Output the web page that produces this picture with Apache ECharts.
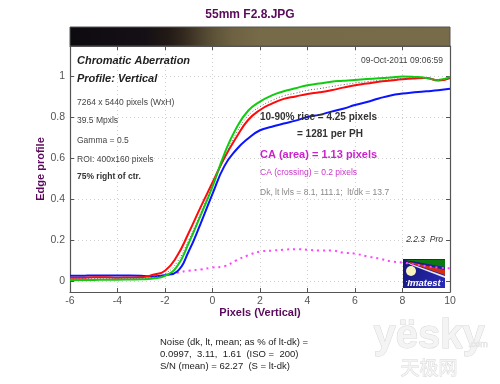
<!DOCTYPE html>
<html><head><meta charset="utf-8">
<script src="https://cdn.jsdelivr.net/npm/echarts@6/dist/echarts.min.js"></script>
<style>html,body{margin:0;padding:0;background:#fff}#c{width:500px;height:384px}</style>
</head><body><div id="c"></div>
<script>
var xs = [-6,-5.5,-5,-4.5,-4,-3.5,-3,-2.5,-2,-1.5,-1,-0.5,0,0.5,1,1.5,2,2.5,3,3.5,4,4.5,5,5.5,6,6.5,7,7.5,8,8.5,9,9.5,10];
var redVals = [0.015,0.015,0.018,0.018,0.016,0.017,0.018,0.03,0.05,0.12,0.235,0.36,0.48,0.6,0.7,0.785,0.834,0.865,0.888,0.9,0.912,0.92,0.93,0.943,0.955,0.963,0.972,0.978,0.984,0.988,0.99,0.978,0.99];
var greenVals = [0.004,0.005,0.005,0.006,0.006,0.007,0.008,0.012,0.025,0.07,0.185,0.32,0.46,0.62,0.745,0.83,0.875,0.905,0.925,0.94,0.955,0.963,0.972,0.976,0.98,0.985,0.989,0.992,0.997,0.995,0.99,0.98,0.995];
var blueVals = [0.025,0.025,0.027,0.027,0.026,0.026,0.025,0.022,0.028,0.045,0.145,0.28,0.425,0.56,0.64,0.695,0.735,0.752,0.768,0.782,0.8,0.81,0.826,0.84,0.858,0.873,0.89,0.905,0.914,0.92,0.925,0.93,0.937];
var lumVals = [0.012,0.012,0.013,0.013,0.013,0.013,0.013,0.018,0.035,0.09,0.2,0.33,0.465,0.6,0.72,0.805,0.85,0.88,0.903,0.916,0.93,0.938,0.948,0.957,0.965,0.972,0.978,0.983,0.988,0.99,0.99,0.98,0.992];
var caVals = [null,null,null,null,null,null,null,null,0.028,0.04,0.05,0.056,0.065,0.072,0.1,0.125,0.143,0.148,0.152,0.155,0.152,0.148,0.148,0.138,0.133,0.12,0.11,0.096,0.09,0.08,0.072,0.065,0.062];
var xTicks = [-6,-4,-2,0,2,4,6,8,10];
var yTicks = [0,0.2,0.4,0.6,0.8,1];

function pairs(v){ var out=[]; for(var i=0;i<xs.length;i++){ out.push([xs[i], v[i]]); } return out; }

var FF = 'Liberation Sans, Arial, sans-serif';
var chart = echarts.init(document.getElementById('c'));

function txt(x,y,s,style){
  return {type:'text', left:x, top:y, z:50, style:Object.assign({text:s, fontFamily:FF, fontSize:8.5, fill:'#444'}, style||{})};
}

var yLabelFmt = function(v){
  for (var i=0;i<yTicks.length;i++){ if (Math.abs(v-yTicks[i])<1e-6) return String(yTicks[i]); }
  return '';
};

var option = {
  animation:false,
  backgroundColor:'#fff',
  grid:{left:70,right:50,top:46,bottom:92},
  xAxis:[{
    type:'value', min:-6, max:10, interval:2,
    name:'Pixels (Vertical)', nameLocation:'middle', nameGap:15, nameMoveOverlap:false,
    nameTextStyle:{color:'#5a0a5a', fontWeight:'bold', fontSize:11, fontFamily:FF},
    axisLine:{show:true, onZero:false, lineStyle:{color:'#555', width:1.2}},
    axisTick:{show:true, inside:true, length:4, lineStyle:{color:'#555'}},
    axisLabel:{color:'#555', fontSize:10.5, fontFamily:FF, margin:4,
      formatter:function(v){ return xTicks.indexOf(v)>=0 ? String(v) : ''; }},
    splitLine:{show:true, lineStyle:{color:'#cfcfcf', type:[1,3]}}
  },{
    type:'value', min:-6, max:10, interval:2, position:'top',
    axisLine:{show:true, onZero:false, lineStyle:{color:'#555', width:1.2}},
    axisTick:{show:true, inside:true, length:4, lineStyle:{color:'#555'}},
    axisLabel:{show:false}, splitLine:{show:false}
  }],
  yAxis:[{
    type:'value', min:-0.054, max:1.146, splitNumber:6,
    name:'Edge profile', nameLocation:'middle', nameGap:24, nameMoveOverlap:false,
    nameTextStyle:{color:'#5a0a5a', fontWeight:'bold', fontSize:11, fontFamily:FF},
    axisLine:{show:true, onZero:false, lineStyle:{color:'#555', width:1.2}},
    axisTick:{show:true, inside:true, length:4, lineStyle:{color:'#555'}},
    axisLabel:{color:'#555', fontSize:10.5, fontFamily:FF, margin:5, formatter:yLabelFmt, showMinLabel:false, showMaxLabel:false},
    splitLine:{show:true, lineStyle:{color:'#cfcfcf', type:[1,3]}}
  },{
    type:'value', min:-0.054, max:1.146, splitNumber:6, position:'right',
    axisLine:{show:true, onZero:false, lineStyle:{color:'#555', width:1.2}},
    axisTick:{show:true, inside:true, length:4, lineStyle:{color:'#555'}},
    axisLabel:{show:false}, splitLine:{show:false}
  }],
  series:[
    {type:'line', name:'CA', data:pairs(caVals), showSymbol:false, smooth:true, connectNulls:false,
      lineStyle:{color:'#ff44ff', width:2, type:[2,4]}, z:2},
    {type:'line', name:'Blue', data:pairs(blueVals), showSymbol:false, smooth:true, lineStyle:{color:'#0a14ff', width:2}, z:3},
    {type:'line', name:'Red', data:pairs(redVals), showSymbol:false, smooth:true, lineStyle:{color:'#ff0a0a', width:2}, z:4},
    {type:'line', name:'Lum', data:pairs(lumVals), showSymbol:false, smooth:true, lineStyle:{color:'#666', width:1, type:[1,2]}, z:5},
    {type:'line', name:'Green', data:pairs(greenVals), showSymbol:false, smooth:true, lineStyle:{color:'#10cc10', width:2}, z:4}
  ],
  graphic:[
    {type:'text', left:'center', top:9, z:50, style:{text:'55mm F2.8.JPG', fontFamily:FF, fontSize:12, fontWeight:'bold', fill:'#5a0a5a'}},
    {type:'rect', shape:{x:70, y:27, width:380, height:19}, z:40,
      style:{stroke:'#555', lineWidth:1, fill:{type:'linear', x:0, y:0, x2:1, y2:0, colorStops:[
        {offset:0, color:'#0d0a10'},{offset:0.2, color:'#151015'},{offset:0.26, color:'#221a16'},
        {offset:0.3, color:'#33291e'},{offset:0.34, color:'#4a3f2c'},{offset:0.38, color:'#5e5338'},
        {offset:0.43, color:'#6e6243'},{offset:0.5, color:'#766a48'},{offset:1, color:'#786b4a'}]}}},
    txt(77,55,'Chromatic Aberration',{fontSize:11, fontWeight:'bold', fontStyle:'italic', fill:'#222'}),
    txt(77,73,'Profile: Vertical',{fontSize:11, fontWeight:'bold', fontStyle:'italic', fill:'#222'}),
    txt(77,98,'7264 x 5440 pixels (WxH)',{}),
    txt(77,116,'39.5 Mpxls',{}),
    txt(77,136,'Gamma = 0.5',{}),
    txt(77,155,'ROI: 400x160 pixels',{}),
    txt(77,172,'75% right of ctr.',{fontWeight:'bold', fill:'#333'}),
    {type:'text', right:57, top:56, z:50, style:{text:'09-Oct-2011 09:06:59', fontFamily:FF, fontSize:8.5, fill:'#444'}},
    txt(260,112,'10-90% rise = 4.25 pixels',{fontSize:10, fontWeight:'bold', fill:'#333'}),
    txt(297,129,'= 1281 per PH',{fontSize:10, fontWeight:'bold', fill:'#333'}),
    txt(260,149,'CA (area) = 1.13 pixels',{fontSize:11, fontWeight:'bold', fill:'#cc22cc'}),
    txt(260,168,'CA (crossing) = 0.2 pixels',{fontSize:8.5, fill:'#cc33cc'}),
    txt(260,188,'Dk, lt lvls = 8.1, 111.1;  lt/dk = 13.7',{fontSize:8.5, fill:'#888'}),
    {type:'text', right:57, top:235, z:50, style:{text:'2.2.3  Pro', fontFamily:FF, fontSize:8.5, fontStyle:'italic', fill:'#333'}},
    {type:'group', left:403, top:259, z:60, children:[
      {type:'rect', shape:{x:0,y:0,width:42,height:29}, style:{fill:{type:'linear',x:0,y:0,x2:1,y2:1,colorStops:[{offset:0,color:'#151575'},{offset:1,color:'#2a2ab8'}]}}},
      {type:'polygon', shape:{points:[[1,1],[42,1],[42,8],[14,3]]}, style:{fill:'#0a7a10'}},
      {type:'polygon', shape:{points:[[3,2],[42,11],[42,16],[10,5]]}, style:{fill:'#d43010'}},
      {type:'polygon', shape:{points:[[3,3],[42,17],[42,19],[8,6]]}, style:{fill:'#e8e8f0'}},
      {type:'circle', shape:{cx:8, cy:12, r:5}, style:{fill:'#f8f4c0'}},
      {type:'text', style:{x:21, y:24, text:'Imatest', fontFamily:FF, fontSize:9.5, fontWeight:'bold', fontStyle:'italic', fill:'#fff', align:'center', verticalAlign:'middle'}}
    ]},
    txt(160,337,'Noise (dk, lt, mean; as % of lt-dk) =',{fontSize:9.5, fill:'#222'}),
    txt(160,349,'0.0997,  3.11,  1.61  (ISO =  200)',{fontSize:9.5, fill:'#222'}),
    txt(160,361,'S/N (mean) = 62.27  (S = lt-dk)',{fontSize:9.5, fill:'#222'}),
    {type:'text', left:373, top:316, z:10, style:{text:'yësky', fontFamily:FF, fontSize:40, fontWeight:'bold', fill:'#f4f4f4', stroke:'#d6d6d6', lineWidth:1}},
    {type:'text', left:468, top:340, z:10, style:{text:'.com', fontFamily:FF, fontSize:9, fill:'#eaeaea', stroke:'#d6d6d6', lineWidth:0.5}},
    {type:'text', left:400, top:358, z:10, style:{text:'天极网', fontFamily:'Noto Sans CJK SC', fontSize:19, fill:'#f4f4f4', stroke:'#d6d6d6', lineWidth:0.8}}
  ]
};
chart.setOption(option);
</script></body></html>
